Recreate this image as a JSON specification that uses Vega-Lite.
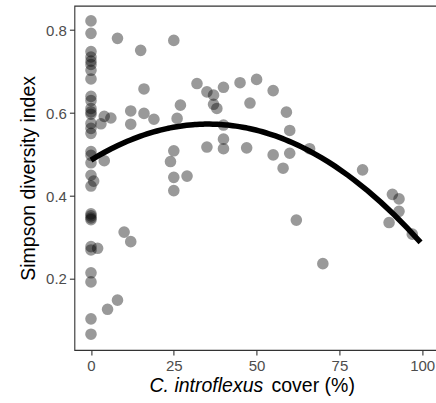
{
  "$schema": "https://vega.github.io/schema/vega-lite/v6.json",
  "autosize": {"type": "none"},
  "padding": {"left": 74.4, "top": 5.7, "right": -2.7, "bottom": 53},
  "width": 364.3,
  "height": 344.3,
  "background": "white",
  "config": {
    "font": "Liberation Sans",
    "view": {"stroke": "#333333", "strokeWidth": 1.1},
    "axis": {
      "grid": false,
      "domain": false,
      "tickColor": "#333333",
      "tickSize": 5,
      "tickWidth": 1.1,
      "labelColor": "#4d4d4d",
      "labelFontSize": 15,
      "labelPadding": 3,
      "titleColor": "#000000",
      "titleFontSize": 19.5,
      "titleFontWeight": "normal"
    }
  },
  "data": {
    "values": [
      {"cover": 0, "simpson": 0.822},
      {"cover": 0, "simpson": 0.792},
      {"cover": 0, "simpson": 0.748},
      {"cover": 0, "simpson": 0.735},
      {"cover": 0, "simpson": 0.725},
      {"cover": 0, "simpson": 0.717},
      {"cover": 0, "simpson": 0.703},
      {"cover": 0, "simpson": 0.682},
      {"cover": 0, "simpson": 0.64},
      {"cover": 0, "simpson": 0.63},
      {"cover": 0, "simpson": 0.611},
      {"cover": 0, "simpson": 0.603},
      {"cover": 0, "simpson": 0.597},
      {"cover": 0, "simpson": 0.575},
      {"cover": 0, "simpson": 0.563},
      {"cover": 0, "simpson": 0.551},
      {"cover": 0, "simpson": 0.507},
      {"cover": 0, "simpson": 0.498},
      {"cover": 0, "simpson": 0.48},
      {"cover": 0, "simpson": 0.45},
      {"cover": 0, "simpson": 0.424},
      {"cover": 0, "simpson": 0.357},
      {"cover": 0, "simpson": 0.352},
      {"cover": 0, "simpson": 0.347},
      {"cover": 0, "simpson": 0.343},
      {"cover": 0, "simpson": 0.278},
      {"cover": 0, "simpson": 0.27},
      {"cover": 0, "simpson": 0.215},
      {"cover": 0, "simpson": 0.193},
      {"cover": 0, "simpson": 0.104},
      {"cover": 0, "simpson": 0.067},
      {"cover": 0.8, "simpson": 0.436},
      {"cover": 2, "simpson": 0.274},
      {"cover": 3, "simpson": 0.574},
      {"cover": 4, "simpson": 0.592},
      {"cover": 6, "simpson": 0.588},
      {"cover": 4, "simpson": 0.485},
      {"cover": 5, "simpson": 0.127},
      {"cover": 8, "simpson": 0.149},
      {"cover": 8, "simpson": 0.78},
      {"cover": 10, "simpson": 0.313},
      {"cover": 12, "simpson": 0.29},
      {"cover": 12, "simpson": 0.605},
      {"cover": 12, "simpson": 0.573},
      {"cover": 15, "simpson": 0.751},
      {"cover": 16, "simpson": 0.658},
      {"cover": 16, "simpson": 0.599},
      {"cover": 19, "simpson": 0.585},
      {"cover": 24, "simpson": 0.483},
      {"cover": 25, "simpson": 0.509},
      {"cover": 25, "simpson": 0.445},
      {"cover": 25, "simpson": 0.413},
      {"cover": 25, "simpson": 0.775},
      {"cover": 26, "simpson": 0.587},
      {"cover": 27, "simpson": 0.619},
      {"cover": 29, "simpson": 0.448},
      {"cover": 32, "simpson": 0.671},
      {"cover": 35, "simpson": 0.651},
      {"cover": 35, "simpson": 0.518},
      {"cover": 37, "simpson": 0.643},
      {"cover": 37, "simpson": 0.621},
      {"cover": 38, "simpson": 0.611},
      {"cover": 40, "simpson": 0.662},
      {"cover": 40, "simpson": 0.571},
      {"cover": 40, "simpson": 0.537},
      {"cover": 40, "simpson": 0.514},
      {"cover": 45, "simpson": 0.673},
      {"cover": 47, "simpson": 0.516},
      {"cover": 48, "simpson": 0.624},
      {"cover": 50, "simpson": 0.681},
      {"cover": 55, "simpson": 0.654},
      {"cover": 55, "simpson": 0.499},
      {"cover": 58, "simpson": 0.467},
      {"cover": 59, "simpson": 0.602},
      {"cover": 60, "simpson": 0.558},
      {"cover": 60, "simpson": 0.503},
      {"cover": 62, "simpson": 0.342},
      {"cover": 66, "simpson": 0.514},
      {"cover": 70, "simpson": 0.237},
      {"cover": 82, "simpson": 0.463},
      {"cover": 90, "simpson": 0.336},
      {"cover": 91, "simpson": 0.404},
      {"cover": 93, "simpson": 0.393},
      {"cover": 93, "simpson": 0.363},
      {"cover": 97, "simpson": 0.308}
    ]
  },
  "layer": [
    {
      "mark": {"type": "circle", "size": 135, "color": "#000000", "opacity": 0.4},
      "encoding": {
        "x": {
          "field": "cover", "type": "quantitative",
          "scale": {"domain": [-5.01, 104.98], "nice": false, "zero": false},
          "axis": {
            "values": [0, 25, 50, 75, 100],
            "title": "C. introflexus",
            "titleFontStyle": "italic",
            "titleAlign": "left",
            "titleBaseline": "alphabetic",
            "titleX": 74.6,
            "titleY": 41
          }
        },
        "y": {
          "field": "simpson", "type": "quantitative",
          "scale": {"domain": [0.0289, 0.8586], "nice": false, "zero": false},
          "axis": {
            "values": [0.2, 0.4, 0.6, 0.8],
            "format": ".1f",
            "title": "Simpson diversity index",
            "titlePadding": 7
          }
        }
      }
    },
    {
      "transform": [
        {"regression": "simpson", "on": "cover", "method": "poly", "order": 2, "extent": [0, 99.5]}
      ],
      "mark": {"type": "line", "color": "#000000", "strokeWidth": 5.5, "strokeCap": "butt"},
      "encoding": {
        "x": {
          "field": "cover", "type": "quantitative",
          "axis": {
            "orient": "bottom",
            "labels": false,
            "ticks": false,
            "domain": false,
            "title": "cover (%)",
            "titleAlign": "left",
            "titleBaseline": "alphabetic",
            "titleX": 196.6,
            "titleY": 41
          }
        },
        "y": {"field": "simpson", "type": "quantitative"}
      }
    }
  ],
  "resolve": {"axis": {"x": "independent"}}
}
